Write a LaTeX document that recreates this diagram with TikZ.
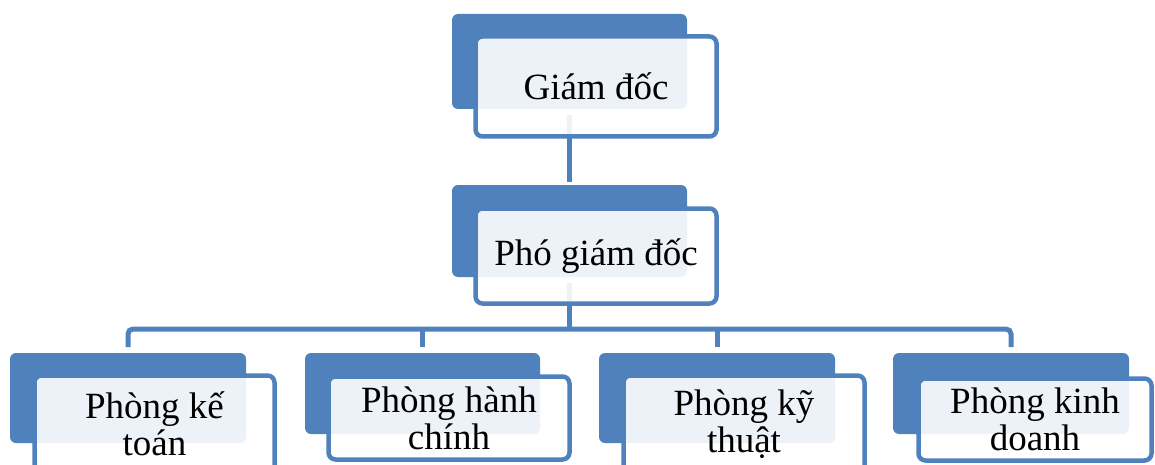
\documentclass[tikz,border=0pt]{standalone}
\usepackage{fontspec}
\setmainfont{Liberation Serif}
\definecolor{orgblue}{HTML}{4F81BD}
\begin{document}
\begin{tikzpicture}[x=1pt,y=-1pt,
  backbox/.style={fill=orgblue,draw=none,rounded corners=6pt,inner sep=0pt,outer sep=0pt},
  frontbox/.style={draw=orgblue,line width=4.5pt,fill=white,fill opacity=0.9,text opacity=1,
    rounded corners=7pt,inner sep=0pt,outer sep=0pt,align=center,
    font=\fontsize{37}{37}\selectfont},
  link/.style={draw=orgblue,line width=5pt},
]
\useasboundingbox (0,0) rectangle (1155,465);
\clip (0,0) rectangle (1155,465);

% coloured tabs behind each box
\node[backbox,minimum width=235pt,minimum height=95pt] (gdback) at (569.5,61.5) {};
\node[backbox,minimum width=235pt,minimum height=92pt] (pgdback) at (569.5,231) {};
\node[backbox,minimum width=236pt,minimum height=90pt] (kt) at (128,398) {};
\node[backbox,minimum width=235pt,minimum height=81pt] (hc) at (422.5,393.5) {};
\node[backbox,minimum width=236pt,minimum height=90pt] (kth) at (717,398) {};
\node[backbox,minimum width=236pt,minimum height=81pt] (kd) at (1011,393.5) {};

% connectors
\coordinate (bus) at (569.5,329);
\draw[link] ([yshift=-6pt]gdback.south) -- ([yshift=3pt]pgdback.north);
\draw[link] ([yshift=-6pt]pgdback.south) -- (pgdback.south |- bus);
\draw[link,rounded corners=5pt] ([yshift=6pt]kt.north) |- (bus) -| ([yshift=6pt]kd.north);
\draw[link] ([yshift=6pt]hc.north) -- (hc.north |- bus);
\draw[link] ([yshift=6pt]kth.north) -- (kth.north |- bus);

% framed boxes with the titles
\node[frontbox,minimum width=241pt,minimum height=100pt] (gd) at (596,86.5) {Giám đốc};
\node[frontbox,minimum width=241pt,minimum height=95pt] (pgd) at (596,256) {Phó giám đốc};
\node[frontbox,minimum width=240pt,minimum height=97pt] (ktf) at (154.5,424) {Phòng kế\\toán};
\node[frontbox,minimum width=241pt,minimum height=83pt] (hcf) at (449,418) {Phòng hành\\chính};
\node[frontbox,minimum width=241pt,minimum height=97pt] (kthf) at (744,424) {Phòng kỹ\\thuật};
\node[frontbox,minimum width=233pt,minimum height=82pt] (kdf) at (1035,419.5) {Phòng kinh\\doanh};
\end{tikzpicture}
\end{document}
